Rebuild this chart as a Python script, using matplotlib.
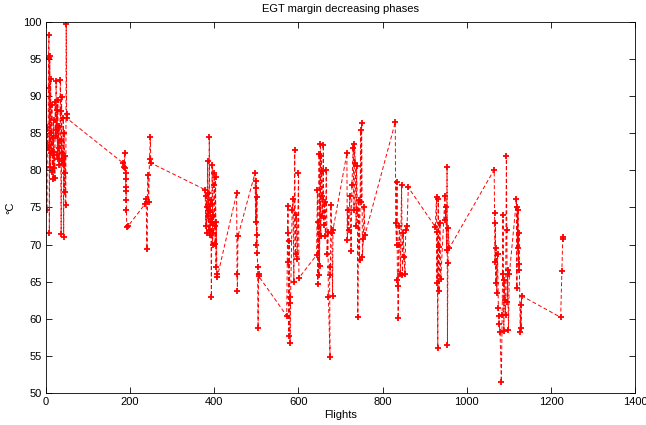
import matplotlib
matplotlib.use("Agg")
import matplotlib.pyplot as plt

# flights / EGT margin, one block per decreasing phase
flights = [
    # phase 1 (0-50)
    0, 1, 2, 3, 4, 5, 6, 7, 8, 9, 10, 11, 12, 13, 14, 15, 16, 17, 18, 19, 20,
    21, 22, 23, 24, 25, 26, 27, 28, 29, 30, 31, 32, 33, 34, 35, 36, 37, 38, 39,
    40, 41, 42, 43, 44, 45, 46, 47, 48, 49, 50,
    # ~190
    183, 186, 187, 188, 189, 189, 190, 190, 191, 191, 192, 195,
    # ~245
    236, 238, 240, 242, 244, 246, 248, 249,
    # ~390
    378, 380, 381, 382, 383, 384, 385, 386, 387, 388, 389, 390, 391, 392, 393,
    394, 395, 396, 397, 398, 399, 400, 401, 402, 403, 404, 405, 406, 407,
    # ~455
    453, 454, 455, 456,
    # ~500
    497, 498, 499, 500, 500, 501, 502, 502, 503, 504, 505, 506,
    # ~585
    572, 574, 575, 576, 577, 578, 579, 580, 581, 585, 587, 589, 591, 593, 595,
    597, 600, 601,
    # ~660
    643, 645, 646, 647, 648, 649, 650, 652, 653, 654, 655, 656, 657, 659, 660,
    662, 664, 666, 668, 670, 671, 675, 674, 676, 677, 679, 681, 682,
    # ~735
    715, 716, 717, 719, 722, 725, 727, 730, 732, 733, 735, 737, 738, 740, 741,
    743, 745, 748, 749, 750, 752, 754, 756, 758,
    # ~845
    830, 831, 833, 834, 835, 836, 837, 838, 840, 842, 845, 847, 849, 851, 853,
    855, 858, 861,
    # ~940
    925, 928, 929, 930, 931, 932, 933, 934, 936, 938, 948, 949, 950, 952, 953,
    954, 955, 956, 958,
    # ~1080
    1065, 1066, 1067, 1068, 1069, 1070, 1071, 1073, 1075, 1076, 1077, 1079,
    1082, 1084, 1086, 1087, 1088, 1089, 1090, 1092, 1094, 1095, 1096, 1097,
    1099, 1101,
    # ~1125
    1118, 1119, 1120, 1121, 1122, 1123, 1124, 1125, 1127, 1128, 1129, 1130,
    # ~1225
    1223, 1226, 1228, 1229,
]

egt_margin = [
    80.5, 91.1, 74.7, 85.9, 83.0, 83.2, 95.1, 98.2, 71.5, 95.4, 80.5, 92.3,
    85.0, 82.3, 88.8, 79.8, 84.4, 78.9, 86.8, 80.3, 82.5, 79.0, 89.2, 84.6,
    92.1, 85.5, 88.2, 82.1, 89.5, 81.5, 86.0, 83.0, 80.7, 84.0, 92.2, 88.0,
    71.4, 89.9, 82.4, 81.2, 80.8, 87.0, 71.0, 85.0, 77.1, 82.0, 79.7, 75.3,
    99.7, 87.6, 87.0,
    81.0, 80.5, 82.4, 80.3, 79.6, 78.8, 77.8, 77.2, 76.0, 74.6, 72.4, 72.5,
    75.5, 76.2, 69.4, 79.4, 75.8, 81.6, 84.5, 81.0,
    77.4, 72.5, 76.5, 71.5, 75.0, 81.2, 73.8, 77.0, 72.0, 84.5, 74.5, 71.3,
    76.0, 73.0, 63.0, 75.5, 80.7, 70.0, 74.0, 71.5, 78.0, 79.7, 72.5, 70.1,
    79.1, 67.0, 73.0, 66.1, 65.6,
    76.9, 66.0, 63.8, 71.1,
    79.7, 73.1, 78.6, 77.6, 69.9, 76.4, 71.3, 68.8, 67.0, 58.8, 66.0, 65.7,
    60.4, 71.5, 75.2, 67.7, 57.7, 70.5, 63.0, 56.7, 62.1, 74.7, 76.2, 65.0,
    82.7, 68.7, 74.0, 68.0, 79.7, 65.5,
    68.6, 77.4, 64.7, 73.1, 65.9, 82.2, 67.1, 83.6, 71.1, 81.9, 79.9, 76.5,
    73.9, 83.4, 72.7, 75.7, 71.1, 80.1, 68.7, 71.7, 63.0, 54.8, 65.9, 67.0,
    75.3, 71.5, 63.1, 72.0,
    82.3, 70.6, 74.6, 72.0, 76.5, 69.1, 78.0, 83.0, 74.6, 83.6, 81.0, 72.5,
    80.6, 74.6, 60.3, 76.0, 67.9, 85.4, 75.7, 86.4, 68.3, 70.8, 75.0, 71.3,
    86.5, 72.9, 69.9, 78.4, 65.2, 64.4, 60.1, 70.0, 72.5, 66.0, 78.0, 65.9,
    71.6, 68.3, 66.0, 72.0, 72.5, 77.7,
    72.4, 76.4, 64.8, 71.7, 56.1, 76.2, 69.7, 63.7, 72.9, 65.3, 76.5, 73.3,
    75.1, 69.3, 80.4, 56.5, 67.5, 72.2, 69.5,
    80.1, 74.2, 67.7, 72.9, 64.8, 69.6, 63.5, 68.7, 61.5, 60.4, 59.3, 58.2,
    51.5, 60.5, 74.0, 66.1, 58.4, 65.2, 62.5, 60.5, 82.0, 72.0, 62.3, 66.6,
    58.5, 66.0,
    76.1, 64.2, 75.1, 69.6, 74.7, 67.4, 71.5, 66.6, 58.2, 61.9, 58.8, 63.1,
    60.2, 66.4, 71.0, 70.8,
]

xticks = [0, 200, 400, 600, 800, 1000, 1200, 1400]
yticks = [50, 55, 60, 65, 70, 75, 80, 85, 90, 95, 100]

plt.rcParams['font.family'] = ['Liberation Sans', 'DejaVu Sans']
plt.rcParams['font.size'] = 8

fig = plt.figure(figsize=(6.46, 4.25), dpi=100)
ax = fig.add_axes([0.0712, 0.0753, 0.912, 0.873])

ax.plot(flights, egt_margin, color='red', linestyle='--', linewidth=0.7,
        dashes=(4, 2.5), marker='+', markersize=4, markeredgewidth=1.3)

ax.set_xlim(0, 1400)
ax.set_ylim(50, 100)
ax.set_xticks(xticks)
ax.set_yticks(yticks)
ax.tick_params(direction='in', length=4, width=0.6, top=True, right=True,
               labelsize=8, pad=3)
for s in ax.spines.values():
    s.set_linewidth(0.6)

ax.set_title("EGT margin decreasing phases", fontsize=8, pad=7)
ax.set_xlabel("Flights", fontsize=8, labelpad=2)
ax.set_ylabel("°C", fontsize=8, labelpad=6)

fig.savefig("out.png", dpi=100)
